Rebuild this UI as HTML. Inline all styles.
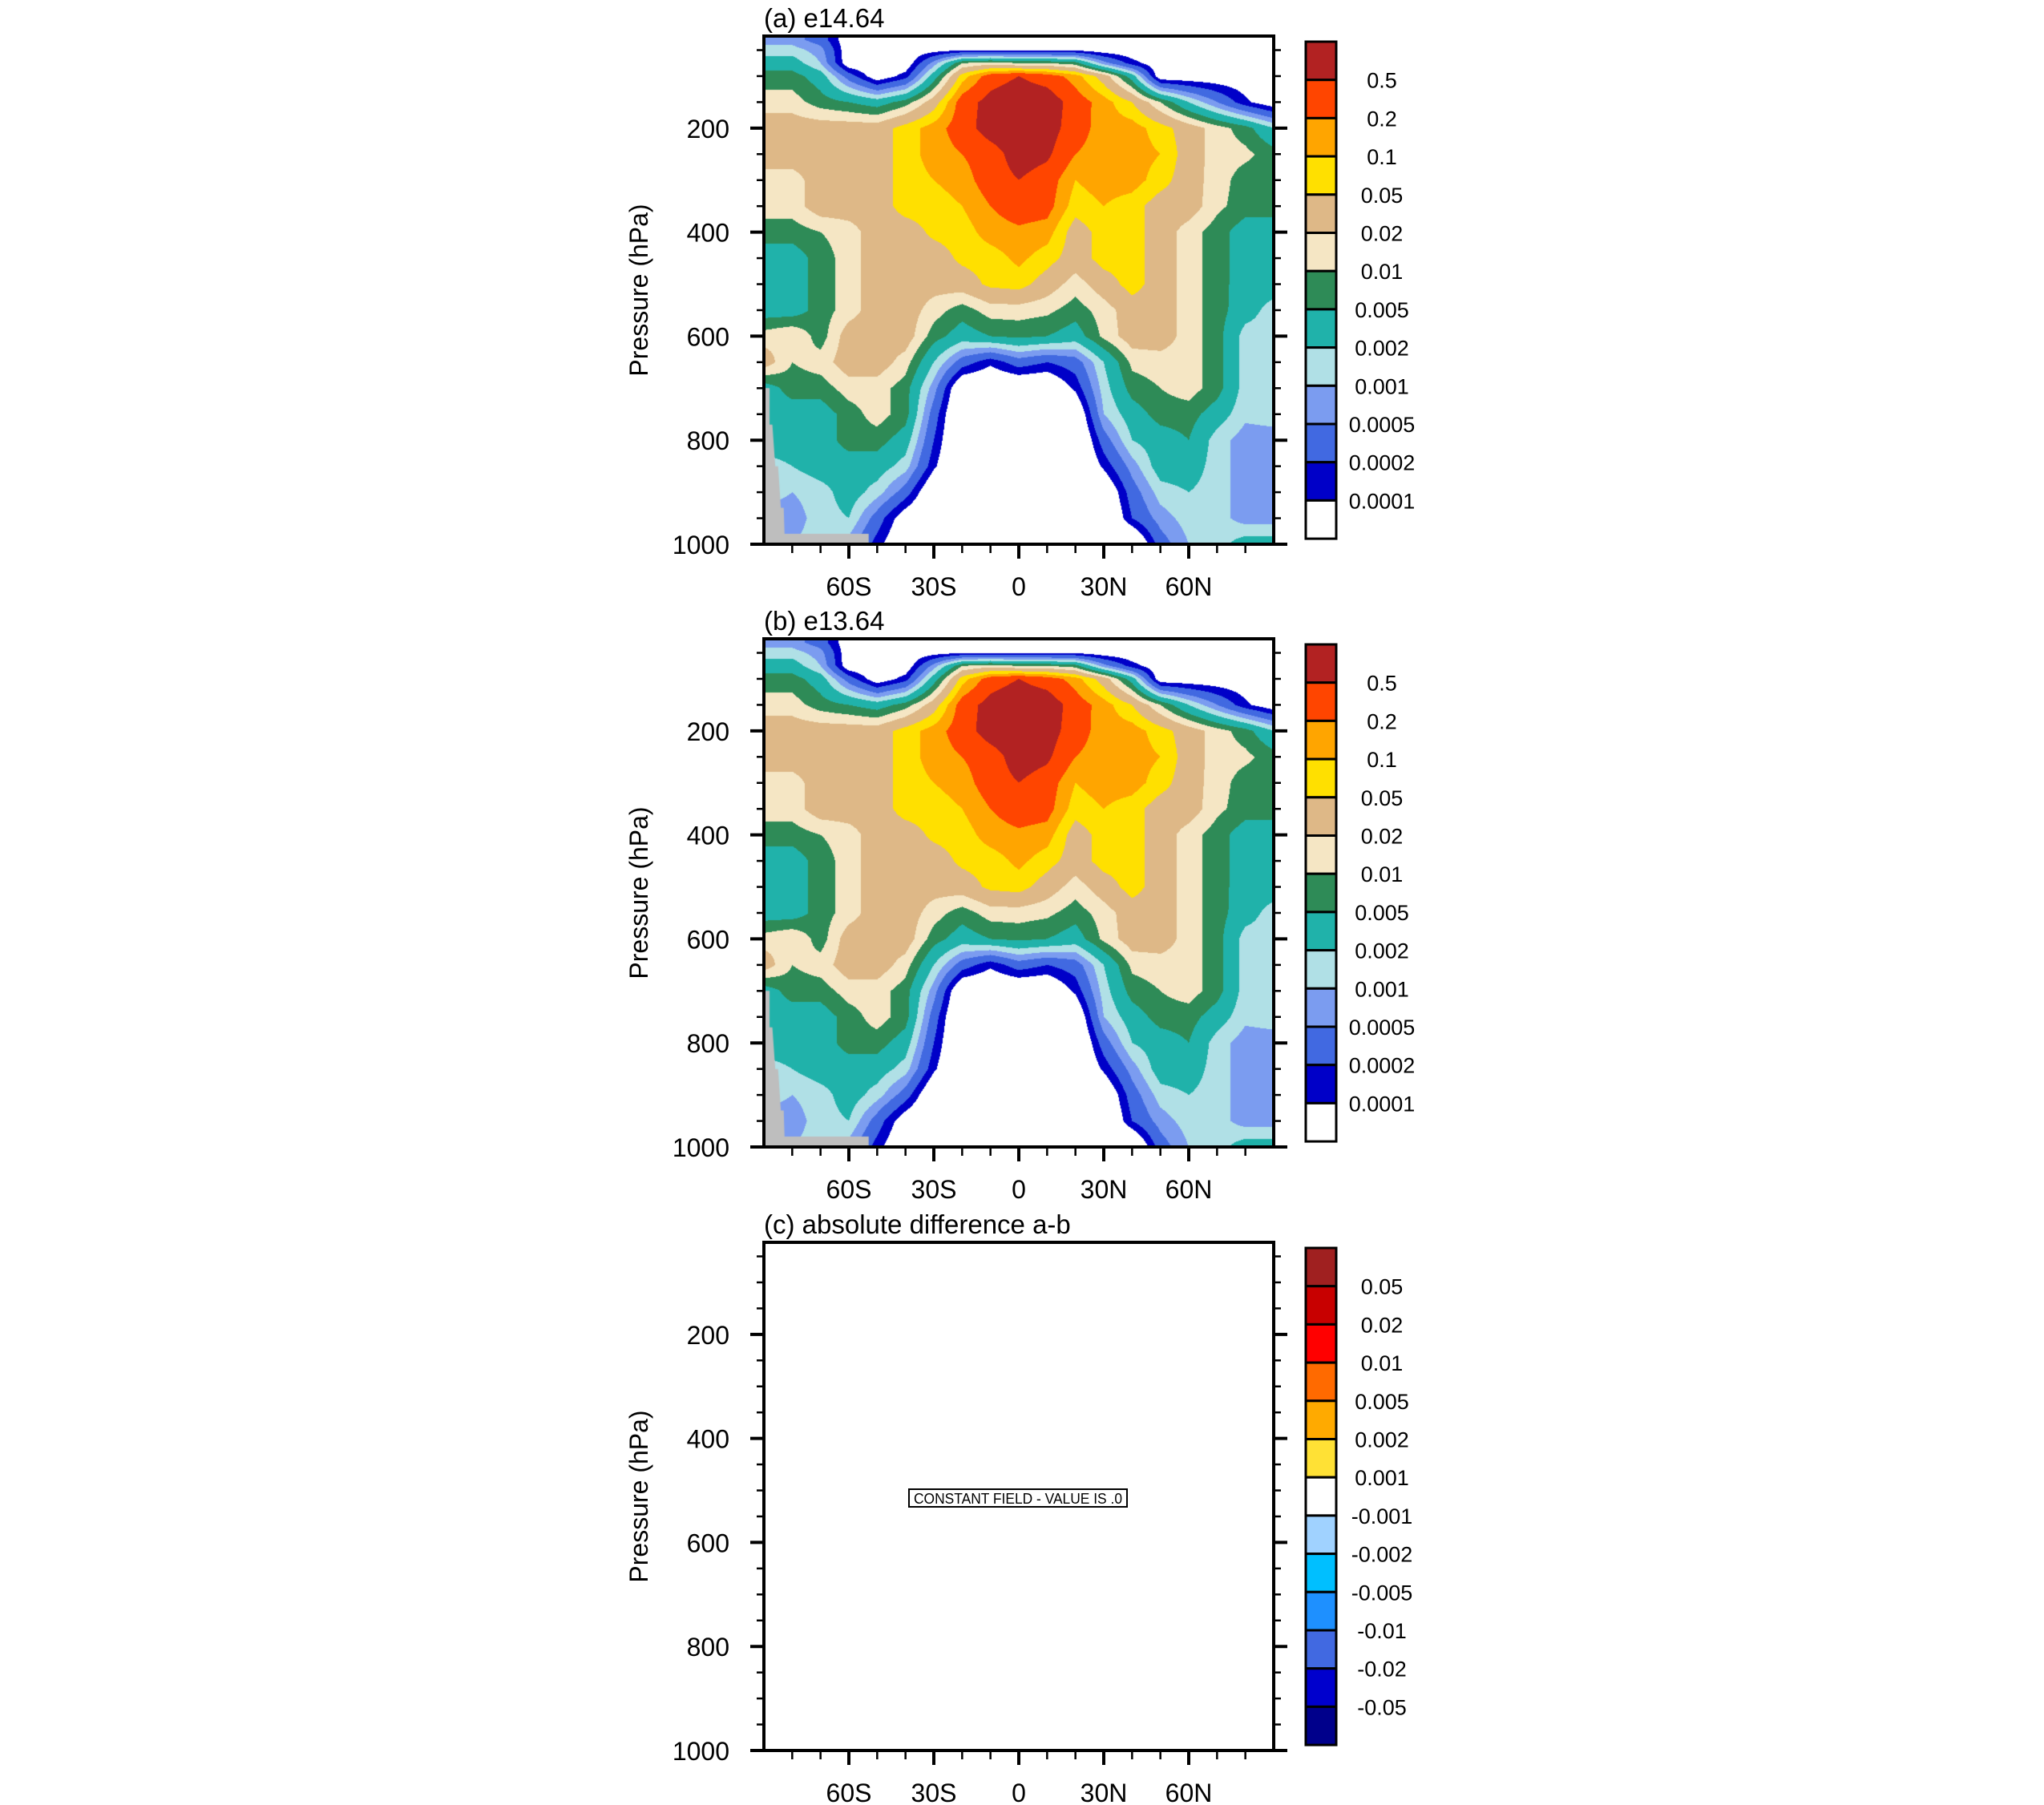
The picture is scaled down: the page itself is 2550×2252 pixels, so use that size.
<!DOCTYPE html>
<html><head><meta charset="utf-8">
<style>
html,body{margin:0;padding:0;background:#fff;}
#wrap{position:relative;width:2550px;height:2252px;overflow:hidden;background:#fff;}
canvas{position:absolute;}
svg{position:absolute;left:0;top:0;}
text{font-family:"Liberation Sans",Arial,sans-serif;fill:#000;}
</style></head>
<body>
<div id="wrap">
<canvas id="cvA"></canvas>
<canvas id="cvB"></canvas>
<svg id="svg" width="2550" height="2252" xmlns="http://www.w3.org/2000/svg"></svg>
</div>
<script>
// ---- data ----
const lats = [-90,-80,-70,-60,-50,-40,-30,-20,-10,0,10,20,30,40,50,60,70,80,90];
const pressures = [30,50,75,100,150,200,250,300,350,400,450,500,550,600,650,700,750,800,850,900,950,1000];
const row030 = [7e-4,7e-4,3.2e-4,5e-5,5e-5,5e-5,5e-5,5e-5,5e-5,5e-5,5e-5,5e-5,5e-5,5e-5,5e-5,5e-5,5e-5,5e-5,5e-5];
const row050 = [1.4e-3,1.4e-3,7e-4,5e-5,5e-5,5e-5,7e-5,9e-5,9e-5,9e-5,9e-5,9e-5,6e-5,5e-5,5e-5,5e-5,5e-5,5e-5,5e-5];
const row075 = [3.2e-3,3.2e-3,1e-3,5e-5,5e-5,5e-5,7e-4,0.01,0.014,0.01,0.01,7e-3,7e-4,1.4e-4,5e-5,5e-5,5e-5,5e-5,5e-5];
const row100 = [7e-3,7e-3,3.2e-3,3.2e-4,5e-5,1.4e-4,3.2e-3,0.07,0.32,0.5,0.32,0.14,0.032,3.2e-3,5e-5,5e-5,5e-5,5e-5,5e-5];
const row150 = [0.014,0.014,7e-3,5e-3,3.2e-3,7e-3,0.032,0.32,0.7,1.0,0.9,0.32,0.14,0.05,0.01,2e-3,5e-4,1.2e-4,5e-5];
const row200 = [0.032,0.032,0.032,0.032,0.032,0.07,0.14,0.32,0.8,1.0,0.8,0.3,0.14,0.14,0.07,0.032,0.014,7e-3,2e-3];
const row250 = [0.032,0.032,0.032,0.032,0.032,0.07,0.14,0.2,0.32,0.8,0.6,0.2,0.14,0.14,0.1,0.032,0.014,0.012,7e-3];
const row300 = [0.014,0.014,0.032,0.032,0.032,0.07,0.1,0.14,0.32,0.5,0.32,0.1,0.14,0.14,0.07,0.03,0.014,7e-3,7e-3];
const row350 = [0.014,0.014,0.032,0.032,0.032,0.07,0.07,0.1,0.2,0.32,0.28,0.07,0.1,0.07,0.032,0.032,0.012,7e-3,7e-3];
const row400 = [7e-3,7e-3,0.01,0.014,0.032,0.032,0.06,0.07,0.14,0.17,0.14,0.032,0.07,0.07,0.032,0.014,7e-3,3.2e-3,3.2e-3];
const row450 = [3.2e-3,3.2e-3,7e-3,0.014,0.032,0.032,0.032,0.06,0.07,0.12,0.07,0.032,0.07,0.07,0.032,0.014,7e-3,3.2e-3,3.2e-3];
const row500 = [3.2e-3,3.2e-3,7e-3,0.014,0.032,0.032,0.028,0.032,0.06,0.07,0.032,0.014,0.032,0.07,0.032,0.014,7e-3,3.2e-3,3.2e-3];
const row550 = [3.2e-3,3.2e-3,7e-3,0.014,0.032,0.032,0.014,7e-3,0.014,0.014,0.012,7e-3,0.014,0.032,0.032,0.014,7e-3,3e-3,1.4e-3];
const row600 = [0.014,0.02,7e-3,0.032,0.032,0.032,7e-3,3.2e-3,5e-3,6e-3,5e-3,3.2e-3,0.012,0.032,0.032,0.014,7e-3,1.4e-3,1.4e-3];
const row650 = [0.032,0.01,0.014,0.032,0.032,0.014,2e-3,3.2e-4,1.2e-4,3.2e-4,2e-4,3.2e-4,2e-3,0.012,0.014,0.014,7e-3,1.4e-3,1.4e-3];
const row700 = [3.2e-3,7e-3,7e-3,0.014,0.014,7e-3,7e-4,3e-5,3e-5,3e-5,3e-5,1.2e-4,1.4e-3,7e-3,0.01,0.014,7e-3,1.4e-3,1.4e-3];
const row750 = [3.2e-3,3.2e-3,3.2e-3,7e-3,0.014,7e-3,3.2e-4,2e-5,2e-5,2e-5,2e-5,3e-5,1e-3,3.2e-3,7e-3,7e-3,3.2e-3,1.2e-3,1.4e-3];
const row800 = [3.2e-3,3.2e-3,3.2e-3,7e-3,7e-3,3.2e-3,2e-4,2e-5,2e-5,2e-5,2e-5,2e-5,3.2e-4,2e-3,3.2e-3,5e-3,1.4e-3,7e-4,7e-4];
const row850 = [1.4e-3,2e-3,3.2e-3,3.2e-3,3.2e-3,1.4e-3,1.2e-4,2e-5,2e-5,2e-5,2e-5,2e-5,1.2e-4,7e-4,3.2e-3,3.2e-3,1.4e-3,7e-4,7e-4];
const row900 = [1.4e-3,1e-3,1.4e-3,3.2e-3,1.4e-3,3.2e-4,3e-5,2e-5,2e-5,2e-5,2e-5,2e-5,3e-5,3.2e-4,1.4e-3,2e-3,1.4e-3,7e-4,7e-4];
const row950 = [7e-4,7e-4,1.4e-3,2e-3,3.2e-4,5e-5,2e-5,2e-5,2e-5,2e-5,2e-5,2e-5,2e-5,2e-4,7e-4,1.4e-3,1.4e-3,7e-4,7e-4];
const row1000 = [7e-4,1e-3,1.4e-3,7e-4,1.4e-4,3e-5,2e-5,2e-5,2e-5,2e-5,2e-5,2e-5,2e-5,2e-5,3.2e-4,1e-3,1.4e-3,3.2e-3,3.2e-3];
const fieldRows = [row030,row050,row075,row100,row150,row200,row250,row300,row350,row400,row450,row500,row550,row600,row650,row700,row750,row800,row850,row900,row950,row1000];
const groundLat = [-90,-88,-88,-87,-86,-85,-84,-83,-82.7,-53,-53,-90];
const groundP = [700,700,770,770,850,850,930,930,980,980,1000,1000];
const levels = [0.0001,0.0002,0.0005,0.001,0.002,0.005,0.01,0.02,0.05,0.1,0.2,0.5];
const levelLabels = ["0.5","0.2","0.1","0.05","0.02","0.01","0.005","0.002","0.001","0.0005","0.0002","0.0001"];
const diffLabels = ["0.05","0.02","0.01","0.005","0.002","0.001","-0.001","-0.002","-0.005","-0.01","-0.02","-0.05"];
const yTicks = [200,400,600,800,1000];
const xTicks = [-60,-30,0,30,60];
const xTickLabels = ["60S","30S","0","30N","60N"];
// ---- styles ----
const colors = ["#ffffff","#0000c8","#4169e1","#7b9cf0","#b0e0e6","#20b2aa","#2e8b57","#f5e6c4","#deb887","#ffe000","#ffa500","#ff4500","#b22222"];
const diffColors = ["#a02020","#c80000","#ff0000","#ff6a00","#ffaa00","#ffe135","#ffffff","#a0d2ff","#00bfff","#1e90ff","#4169e1","#0000cd","#00008b"];
const X0=953, X1=1589, PH=634, PTOP=23, PBOT=1000;
const panelTops=[45,797,1550];
function xs(lat){return X0+(lat+90)/180*(X1-X0);}
function ys(p,top){return top+(p-PTOP)/(PBOT-PTOP)*PH;}
const NS="http://www.w3.org/2000/svg";
const svg=document.getElementById('svg');
function el(tag,attrs,parent){const e=document.createElementNS(NS,tag);for(const k in attrs)e.setAttribute(k,attrs[k]);(parent||svg).appendChild(e);return e;}

function sample(lat,p){
  let i=0;while(i<lats.length-2&&lat>lats[i+1])i++;
  let j=0;while(j<pressures.length-2&&p>pressures[j+1])j++;
  let tx=(lat-lats[i])/(lats[i+1]-lats[i]);tx=Math.max(0,Math.min(1,tx));
  let ty=(p-pressures[j])/(pressures[j+1]-pressures[j]);ty=Math.max(0,Math.min(1,ty));
  const a=Math.log10(fieldRows[j][i]),b=Math.log10(fieldRows[j][i+1]),c=Math.log10(fieldRows[j+1][i]),d=Math.log10(fieldRows[j+1][i+1]);
  return Math.pow(10,(a*(1-tx)+b*tx)*(1-ty)+(c*(1-tx)+d*tx)*ty);
}
function hex(h){return [parseInt(h.substr(1,2),16),parseInt(h.substr(3,2),16),parseInt(h.substr(5,2),16)];}
const rgb=colors.map(hex);
function drawField(id,top){
  const cv=document.getElementById(id);
  const w=X1-X0,h=PH;
  cv.width=w;cv.height=h;cv.style.left=X0+'px';cv.style.top=top+'px';
  const ctx=cv.getContext('2d');const img=ctx.createImageData(w,h);
  for(let y=0;y<h;y++){const p=PTOP+(y+0.5)/h*(PBOT-PTOP);
    for(let x=0;x<w;x++){const lat=-90+(x+0.5)/w*180;const v=sample(lat,p);
      let k=0;while(k<levels.length&&v>=levels[k])k++;
      const c=rgb[k];const o=(y*w+x)*4;img.data[o]=c[0];img.data[o+1]=c[1];img.data[o+2]=c[2];img.data[o+3]=255;}}
  ctx.putImageData(img,0,0);
  ctx.fillStyle="#bebebe";ctx.beginPath();
  for(let i=0;i<groundLat.length;i++){const gx=xs(groundLat[i])-X0,gy=ys(groundP[i],top)-top;if(i==0)ctx.moveTo(gx,gy);else ctx.lineTo(gx,gy);}
  ctx.closePath();ctx.fill();
}
drawField('cvA',panelTops[0]);
drawField('cvB',panelTops[1]);

const titles=["(a) e14.64","(b) e13.64","(c) absolute difference a-b"];
const pn=["a","b","c"];
panelTops.forEach((top,pi)=>{
  const g=el('g',{});
  
  
  const bot=top+PH;
  const t=el('text',{x:X0,y:top-11,'font-size':33},g);t.textContent=titles[pi];
  
  
  for(let p=50;p<=1000;p+=50){const y=ys(p,top);const major=(p%200===0);
    el('line',{x1:X0-(major?17:9),x2:X0,y1:y,y2:y,stroke:'#000','stroke-width':major?4:2.5},g);
    el('line',{x1:X1,x2:X1+(major?17:9),y1:y,y2:y,stroke:'#000','stroke-width':major?4:2.5},g);}
  yTicks.forEach(p=>{const tt=el('text',{x:910,y:ys(p,top)+12,'font-size':32,'text-anchor':'end'},g);tt.textContent=p;
    
    });
  for(let lat=-80;lat<=80;lat+=10){const x=xs(lat);const major=(lat%30===0);
    el('line',{x1:x,x2:x,y1:bot,y2:bot+(major?18:11),stroke:'#000','stroke-width':major?4:2.5},g);}
  xTicks.forEach((lat,i)=>{const tt=el('text',{x:xs(lat),y:bot+64,'font-size':32,'text-anchor':'middle'},g);tt.textContent=xTickLabels[i];
    
    });
  const yl=el('text',{x:0,y:0,'font-size':32,'text-anchor':'middle',transform:`translate(808,${top+PH/2}) rotate(-90)`},g);yl.textContent="Pressure (hPa)";
  
  
  const fr=el('rect',{x:X0,y:top,width:X1-X0,height:PH,fill:'none',stroke:'#000','stroke-width':4},g);
  
  
  const cols=pi<2?colors.slice().reverse():diffColors;
  const labs=pi<2?levelLabels:diffLabels;
  const cbTop=top+7,bh=47.7;
  const cb=el('g',{},g);
  
  
  cols.forEach((c,i)=>{const r=el('rect',{x:1629,y:cbTop+i*bh,width:38,height:bh,fill:c,stroke:'#000','stroke-width':3},cb);
    
    });
  labs.forEach((l,i)=>{const tt=el('text',{x:1724,y:cbTop+(i+1)*bh+10,'font-size':27,'text-anchor':'middle'},cb);tt.textContent=l;
    
    });
});
const cg=el('g',{});


el('rect',{x:1134,y:1858,width:272,height:22,fill:'#fff',stroke:'#000','stroke-width':2},cg);
const ct=el('text',{x:1140,y:1876,'font-size':18,textLength:260,lengthAdjust:'spacingAndGlyphs'},cg);ct.textContent="CONSTANT FIELD - VALUE IS .0";
</script>
</body></html>
